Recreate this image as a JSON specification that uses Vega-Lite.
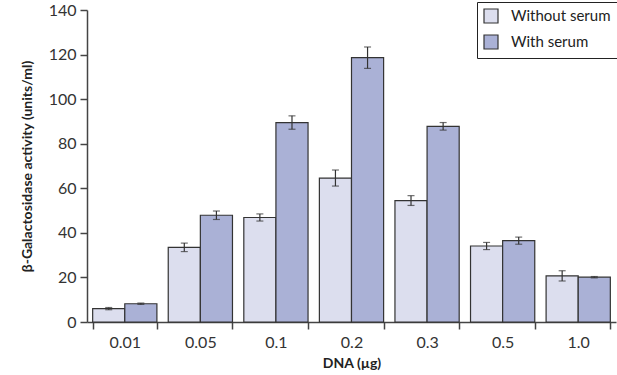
{
  "$schema": "https://vega.github.io/schema/vega-lite/v6.json",
  "width": 529,
  "height": 312,
  "autosize": {"type": "none"},
  "padding": {"left": 87, "top": 10, "right": 1, "bottom": 53},
  "background": "white",
  "config": {
    "view": {"stroke": null},
    "font": "Lato",
    "axis": {"labelFont": "Lato", "titleFont": "Lato", "domainColor": "#444", "tickColor": "#444", "labelColor": "#333", "titleColor": "#222", "grid": false},
    "legend": {"labelFont": "Lato"}
  },
  "data": {
    "values": [
      {"dna": "0.01", "serum": "Without serum", "value": 6.0, "lo": 5.5, "hi": 6.5},
      {"dna": "0.01", "serum": "With serum", "value": 8.2, "lo": 7.9, "hi": 8.5},
      {"dna": "0.05", "serum": "Without serum", "value": 33.5, "lo": 31.6, "hi": 35.4},
      {"dna": "0.05", "serum": "With serum", "value": 47.9, "lo": 46.0, "hi": 49.8},
      {"dna": "0.1", "serum": "Without serum", "value": 46.9, "lo": 45.3, "hi": 48.5},
      {"dna": "0.1", "serum": "With serum", "value": 89.5, "lo": 86.5, "hi": 92.5},
      {"dna": "0.2", "serum": "Without serum", "value": 64.6, "lo": 61.0, "hi": 68.2},
      {"dna": "0.2", "serum": "With serum", "value": 118.6, "lo": 113.8, "hi": 123.4},
      {"dna": "0.3", "serum": "Without serum", "value": 54.5, "lo": 52.3, "hi": 56.7},
      {"dna": "0.3", "serum": "With serum", "value": 87.8, "lo": 86.1, "hi": 89.5},
      {"dna": "0.5", "serum": "Without serum", "value": 34.1, "lo": 32.5, "hi": 35.7},
      {"dna": "0.5", "serum": "With serum", "value": 36.5, "lo": 34.9, "hi": 38.1},
      {"dna": "1.0", "serum": "Without serum", "value": 20.7, "lo": 18.4, "hi": 23.0},
      {"dna": "1.0", "serum": "With serum", "value": 20.1, "lo": 19.8, "hi": 20.4}
    ]
  },
  "encoding": {
    "x": {
      "field": "dna", "type": "nominal", "sort": null,
      "scale": {"paddingInner": 0.15, "paddingOuter": 0.075},
      "axis": {"title": "DNA (µg)", "labelAngle": 0, "tickBand": "extent", "tickSize": 7, "labelFontSize": 16, "labelPadding": 5, "titleFontSize": 14, "titleFontWeight": "bold", "titlePadding": 6, "domainWidth": 1.5, "tickWidth": 1.5}
    },
    "xOffset": {"field": "serum", "type": "nominal", "sort": ["Without serum", "With serum"], "scale": {"paddingInner": 0, "paddingOuter": 0}}
  },
  "layer": [
    {
      "mark": {"type": "bar", "stroke": "#333", "strokeWidth": 1.2},
      "encoding": {
        "y": {
          "field": "value", "type": "quantitative",
          "scale": {"domain": [0, 140], "nice": false},
          "axis": {"title": "β-Galactosidase activity (units/ml)", "values": [0, 20, 40, 60, 80, 100, 120, 140], "tickSize": 7, "labelFontSize": 16, "labelPadding": 4, "labelFlush": false, "titleFontSize": 14, "titleFontWeight": "bold", "titlePadding": 14, "domainWidth": 1.5, "tickWidth": 1.5}
        },
        "fill": {
          "field": "serum", "type": "nominal",
          "sort": ["Without serum", "With serum"],
          "scale": {"domain": ["Without serum", "With serum"], "range": ["#dcdeee", "#aab1d6"]},
          "legend": {
            "title": null, "orient": "none", "legendX": 390, "legendY": -8,
            "symbolType": "square", "symbolSize": 196, "symbolStrokeColor": "#333", "symbolStrokeWidth": 1.2,
            "labelFontSize": 15, "labelColor": "#222", "rowPadding": 6, "labelOffset": 12,
            "strokeColor": "#222", "padding": 6, "fillColor": "white"
          }
        }
      }
    },
    {
      "mark": {"type": "rule", "color": "#333", "strokeWidth": 1.2},
      "encoding": {
        "y": {"field": "lo", "type": "quantitative"},
        "y2": {"field": "hi"}
      }
    },
    {
      "mark": {"type": "tick", "color": "#333", "thickness": 1.2, "size": 7},
      "encoding": {"y": {"field": "lo", "type": "quantitative"}}
    },
    {
      "mark": {"type": "tick", "color": "#333", "thickness": 1.2, "size": 7},
      "encoding": {"y": {"field": "hi", "type": "quantitative"}}
    }
  ]
}
